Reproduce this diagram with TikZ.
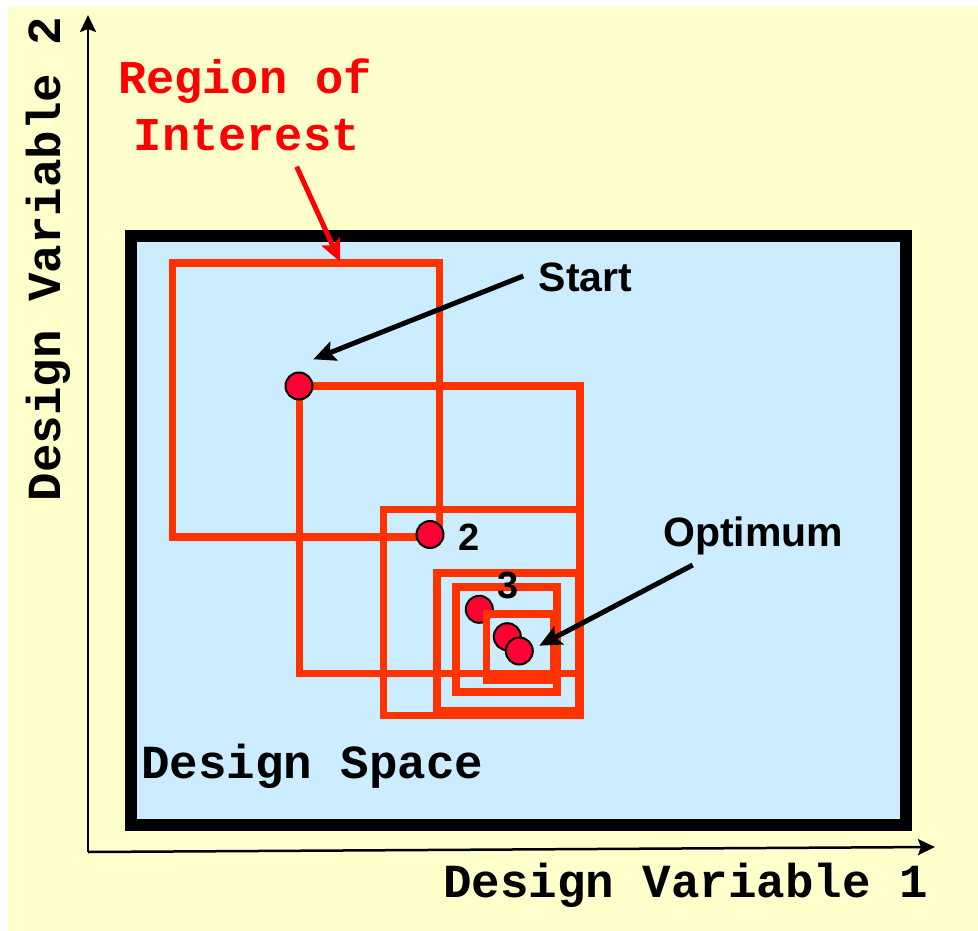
\documentclass[tikz,border=0pt]{standalone}
\usepackage{fontspec}
\setmainfont{Liberation Sans}
\newfontfamily\courfont{Liberation Mono}
\usetikzlibrary{arrows.meta}
\definecolor{bgyellow}{HTML}{FFFFCC}
\definecolor{spaceblue}{HTML}{CCECFF}
\definecolor{roired}{HTML}{FF3300}
\definecolor{ptred}{HTML}{FF0033}
\definecolor{txtred}{HTML}{FF0000}
\tikzset{
  monolabel/.style={font=\courfont\bfseries\fontsize{47.5}{56}\selectfont, inner sep=0pt, text=black},
  roilabel/.style={font=\courfont\bfseries\fontsize{47}{56}\selectfont, inner sep=0pt, text=txtred},
  sanslabel/.style={font=\bfseries\fontsize{41}{48}\selectfont, inner sep=0pt, text=black},
  digitlabel/.style={font=\bfseries\fontsize{38}{44}\selectfont, inner sep=0pt, text=black},
  roibox/.style={draw=roired, line width=7.5pt},
  ptdot/.style={circle, draw=black, line width=2pt, fill=ptred, minimum size=27pt, inner sep=0pt},
  axisline/.style={line width=2.5pt, -{Stealth[length=17pt,width=16pt,inset=3pt]}},
  pointer/.style={line width=5pt, -{Stealth[length=22pt,width=20pt,inset=4pt]}},
}
\begin{document}
\begin{tikzpicture}[x=1pt,y=-1pt]
\useasboundingbox (0,0) rectangle (978,931);
\fill[white] (0,0) rectangle (978,931);
\fill[bgyellow] (8,7) rectangle (978,931);

% design space
\draw[line width=12pt, fill=spaceblue] (130.5,236) rectangle (906,825);

% axes
\coordinate (origin) at (88,852);
\coordinate (ytip) at (88,15);
\coordinate (xtip) at (935,847);
\draw[axisline] (origin) -- (ytip);
\draw[axisline] (origin) -- (xtip);

% regions of interest
\draw[roibox] (172.5,263) rectangle (439.7,537);
\draw[roibox] (299.5,386) rectangle (580,673.7);
\draw[roibox] (383.5,509.5) rectangle (580,715.5);
\draw[roibox] (437,573) rectangle (579,710.5);
\draw[roibox] (456,587) rectangle (557,692);

% points
\node[ptdot] (p1) at (299,386) {};
\node[ptdot] (p2) at (430,534.5) {};
\node[ptdot] (p3) at (479.3,609.3) {};
\draw[roibox] (486.7,614) rectangle (553.7,680.5);
\node[ptdot] (p4) at (507.3,636.7) {};
\node[ptdot] (p5) at (519.3,651) {};

% labels
\node[roilabel, anchor=base] (roi1) at (245,93.3) {Region of};
\node[roilabel, anchor=base] (roi2) at (246.7,150.7) {Interest};
\node[sanslabel, anchor=base west] (start) at (538.5,291.7) {Start};
\node[sanslabel, anchor=base west] (optimum) at (663,546) {Optimum};
\node[digitlabel, anchor=base] (lab2) at (469,550) {2};
\node[digitlabel, anchor=base] (lab3) at (508.3,598.3) {3};
\node[monolabel, anchor=base] (dspace) at (312.5,778) {Design Space};
\node[monolabel, anchor=base] (xlab) at (685.5,897) {Design Variable 1};
\node[monolabel, anchor=base, rotate=90] (ylab) at (60,259) {Design Variable 2};

% pointers
\coordinate (roifrom) at (296.7,166.7);
\coordinate (roito) at (340,261.7);
\coordinate (startfrom) at (523.3,276);
\coordinate (startto) at (313.3,359.3);
\coordinate (optfrom) at (692.7,565);
\coordinate (optto) at (539.3,645.7);
\draw[pointer, draw=txtred, fill=txtred] (roifrom) -- (roito);
\draw[pointer] (startfrom) -- (startto);
\draw[pointer] (optfrom) -- (optto);
\end{tikzpicture}
\end{document}
